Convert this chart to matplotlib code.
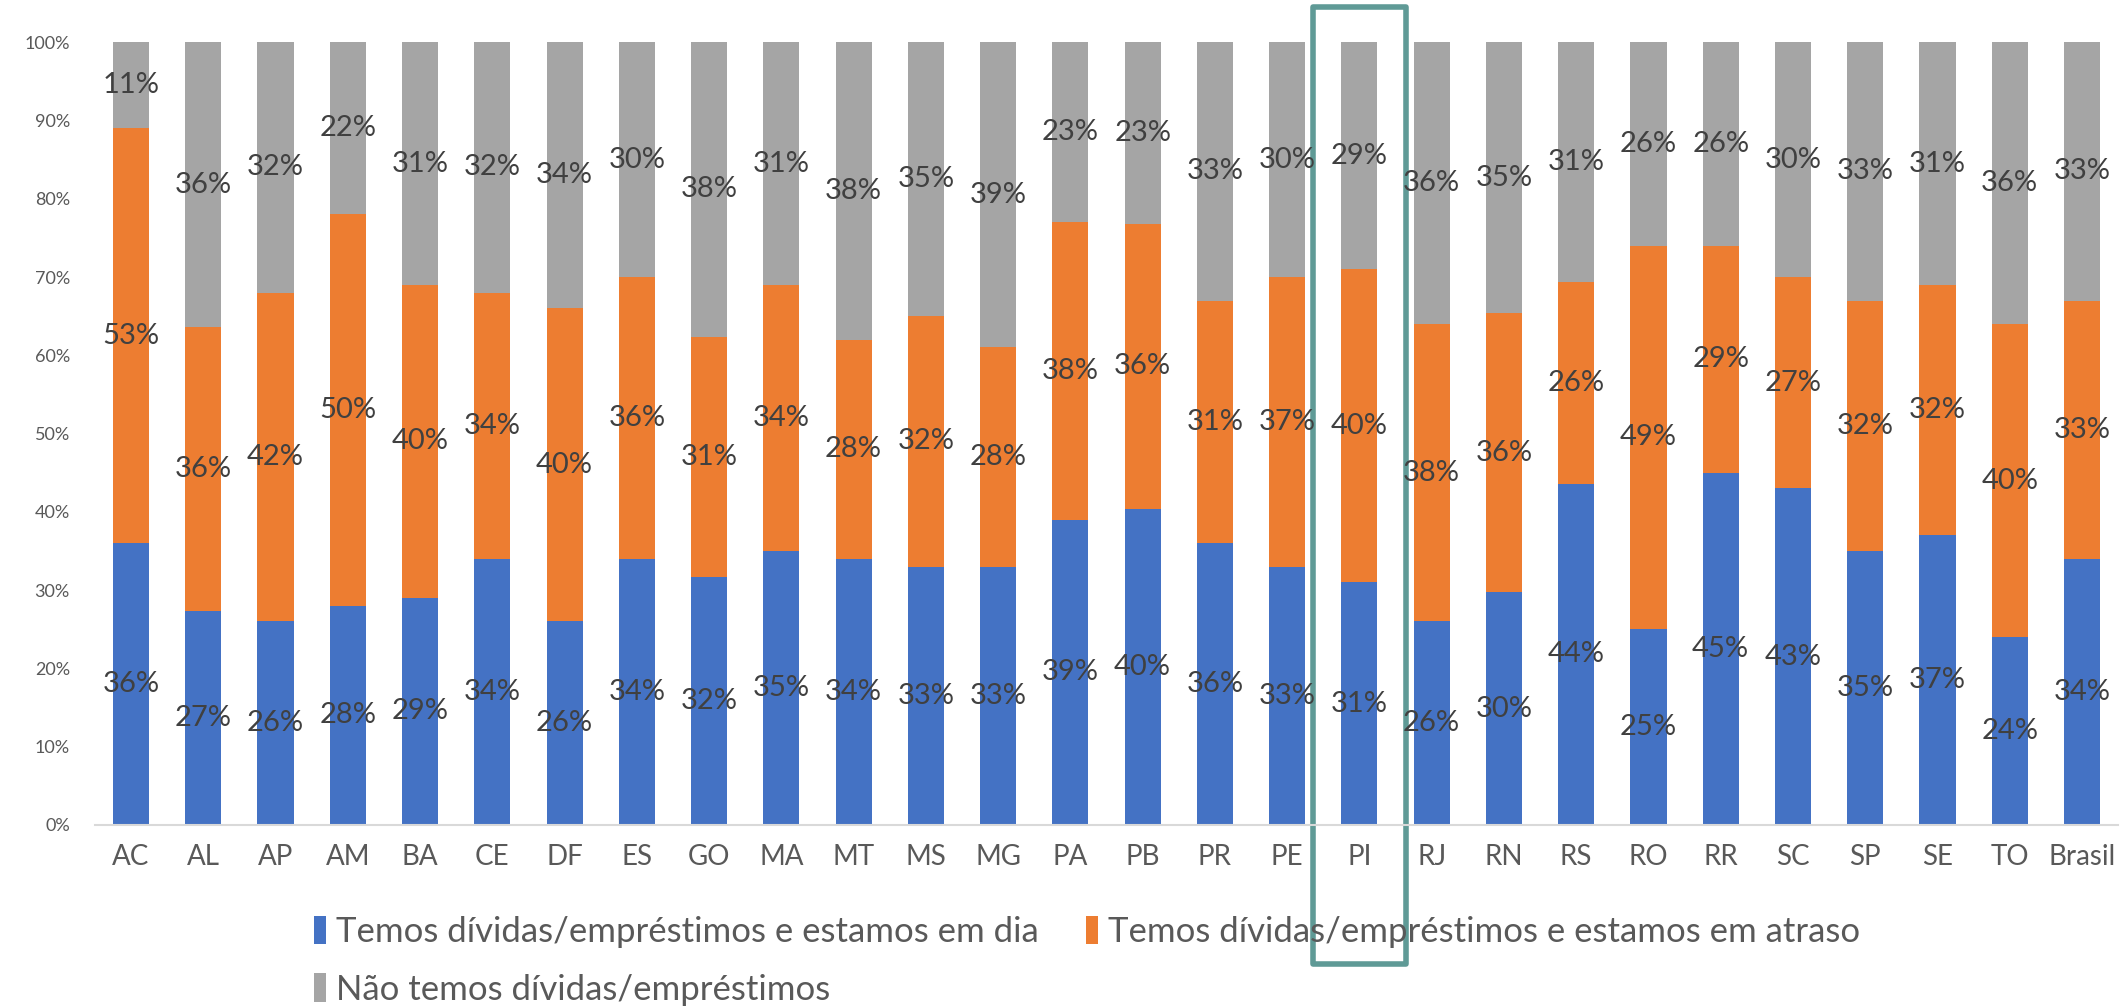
import numpy as np
import matplotlib.pyplot as plt
from matplotlib.patches import Rectangle
from matplotlib.transforms import blended_transform_factory

plt.rcParams['font.family'] = ['Lato', 'DejaVu Sans']

states = ['AC', 'AL', 'AP', 'AM', 'BA', 'CE', 'DF', 'ES', 'GO', 'MA', 'MT', 'MS', 'MG', 'PA',
          'PB', 'PR', 'PE', 'PI', 'RJ', 'RN', 'RS', 'RO', 'RR', 'SC', 'SP', 'SE', 'TO', 'Brasil']
em_dia = [36, 27, 26, 28, 29, 34, 26, 34, 32, 35, 34, 33, 33, 39,
          40, 36, 33, 31, 26, 30, 44, 25, 45, 43, 35, 37, 24, 34]
em_atraso = [53, 36, 42, 50, 40, 34, 40, 36, 31, 34, 28, 32, 28, 38,
             36, 31, 37, 40, 38, 36, 26, 49, 29, 27, 32, 32, 40, 33]
sem_dividas = [11, 36, 32, 22, 31, 32, 34, 30, 38, 31, 38, 35, 39, 23,
               23, 33, 30, 29, 36, 35, 31, 26, 26, 30, 33, 31, 36, 33]
series_names = ['Temos dívidas/empréstimos e estamos em dia',
                'Temos dívidas/empréstimos e estamos em atraso',
                'Não temos dívidas/empréstimos']
colors = ['#4472C4', '#ED7D31', '#A5A5A5']
destaque = 'PI'

vals = np.array([em_dia, em_atraso, sem_dividas], dtype=float)
# 100% stacked: scale every column to sum 100
pct = vals / vals.sum(axis=0) * 100

fig = plt.figure(figsize=(21.23, 10.06), dpi=100)
ax = fig.add_axes([0.0447, 0.18, 0.953, 0.778])

x = np.arange(len(states))
bottom = np.zeros(len(states))
bars = []
for i in range(3):
    b_ = ax.bar(x, pct[i], 0.5, bottom=bottom, color=colors[i], label=series_names[i])
    bars.append(b_)
    for xi, b, h, v in zip(x, bottom, pct[i], vals[i]):
        ax.text(xi, b + h / 2, '%d%%' % v, ha='center', va='center',
                fontsize=21, color='#404040')
    bottom += pct[i]

ax.set_xlim(-0.5, len(states) - 0.5)
ax.set_ylim(0, 100)
ax.set_yticks(np.arange(0, 101, 10))
ax.set_yticklabels(['%d%%' % t for t in range(0, 101, 10)])
ax.set_xticks(x)
ax.set_xticklabels(states)
ax.tick_params(axis='y', length=0, labelsize=13, labelcolor='#595959', pad=18)
ax.tick_params(axis='x', length=0, labelsize=20, labelcolor='#595959', pad=14)
for s in ['top', 'right', 'left']:
    ax.spines[s].set_visible(False)
ax.spines['bottom'].set_color('#D9D9D9')
ax.spines['bottom'].set_linewidth(1.5)

# highlight box around one state
k = states.index(destaque)
trans = blended_transform_factory(ax.transData, ax.transAxes)
box = Rectangle((k - 0.64, -0.178), 1.28, 1.223, transform=trans, fill=False,
                edgecolor='#5F9A96', linewidth=4, joinstyle='round', clip_on=False)
ax.add_patch(box)

# legend fills column-wise, so order handles to get blue/orange on the first row
order = [0, 2, 1]
fig.legend([bars[i] for i in order], [series_names[i] for i in order],
           loc='upper left', bbox_to_anchor=(0.133, 0.121), ncol=2, frameon=False,
           fontsize=25, labelcolor='#595959', handlelength=0.35, handleheight=0.9,
           handletextpad=0.3, columnspacing=1.35, labelspacing=0.73)

fig.savefig('out.png', dpi=100)
